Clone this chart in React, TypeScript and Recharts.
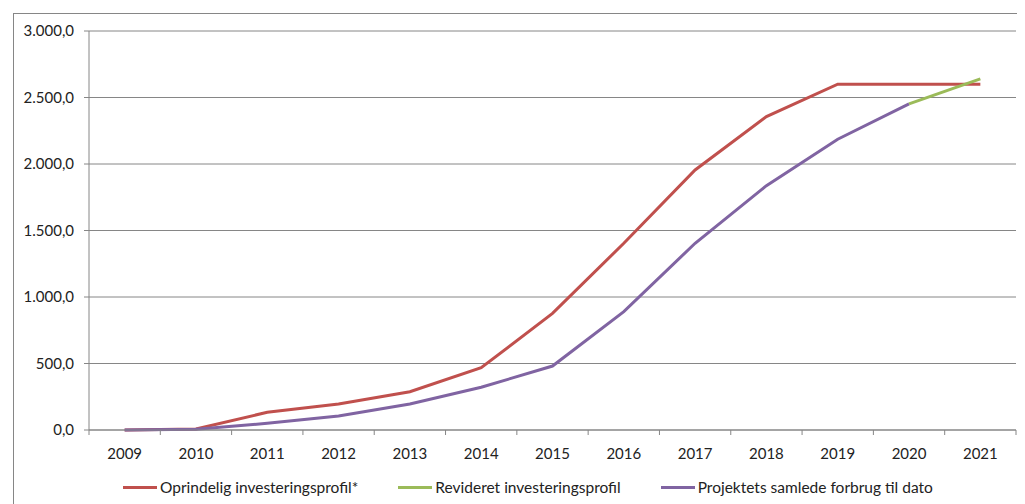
import { LineChart, Line, XAxis, YAxis, CartesianGrid, Legend } from 'recharts';

const years = ['2009', '2010', '2011', '2012', '2013', '2014', '2015', '2016', '2017', '2018', '2019', '2020', '2021'];
const oprindelig = [0, 8, 133, 195, 288, 468, 877, 1404, 1955, 2356, 2600, 2600, 2600];
const revideret = [null, null, null, null, null, null, null, null, null, null, null, 2452, 2640];
const forbrug = [0, 5, 50, 105, 195, 321, 481, 890, 1404, 1837, 2186, 2452, null];
const yTicks = [0, 500, 1000, 1500, 2000, 2500, 3000];

const series = [
  { key: 'oprindelig', name: 'Oprindelig investeringsprofil*', color: '#C0504D' },
  { key: 'revideret', name: 'Revideret investeringsprofil', color: '#9BBB59' },
  { key: 'forbrug', name: 'Projektets samlede forbrug til dato', color: '#8064A2' },
];

const data = years.map((year, i) => ({
  year,
  oprindelig: oprindelig[i],
  revideret: revideret[i],
  forbrug: forbrug[i],
}));

const gridColor = '#868686';
const textColor = '#222';
const font = 'Lato, "Open Sans", sans-serif';

const formatDk = (v: number) => {
  const [int, dec] = v.toFixed(1).split('.');
  return int.replace(/\B(?=(\d{3})+(?!\d))/g, '.') + ',' + dec;
};

// Excel-style: tick marks sit on the band edges, labels in the band centre
const YearTick = (props: any) => {
  const { x, y, payload, index, visibleTicksCount } = props;
  const half = payload.offset ?? 0;
  const top = y - 18;
  return (
    <g>
      <line x1={x - half} x2={x - half} y1={top} y2={top + 5} stroke={gridColor} />
      {index === visibleTicksCount - 1 && (
        <line x1={x + half} x2={x + half} y1={top} y2={top + 5} stroke={gridColor} />
      )}
      <text x={x} y={y} dy="0.71em" textAnchor="middle" fill={textColor} fontSize={15} fontFamily={font}>
        {payload.value}
      </text>
    </g>
  );
};

const LegendContent = () => (
  <div style={{ display: 'flex', alignItems: 'center', paddingLeft: 115, height: 24, fontFamily: font, fontSize: 15.5, color: textColor }}>
    {series.map((s) => (
      <div key={s.key} style={{ display: 'flex', alignItems: 'center', marginRight: 40 }}>
        <span style={{ display: 'inline-block', width: 34, height: 3, background: s.color, marginRight: 3 }} />
        <span>{s.name}</span>
      </div>
    ))}
  </div>
);

export default function App() {
  return (
    <div style={{ position: 'relative', width: 1017, height: 496 }}>
      <div style={{ position: 'absolute', left: 5, top: 5, width: 1012, height: 491, borderLeft: `1px solid ${gridColor}`, borderTop: `1px solid ${gridColor}`, boxSizing: 'border-box' }} />
      <LineChart width={1017} height={496} data={data} margin={{ top: 23, right: 9, bottom: 5, left: 0 }}>
        <CartesianGrid vertical={false} stroke={gridColor} strokeWidth={1} />
        <XAxis
          dataKey="year"
          scale="band"
          axisLine={{ stroke: gridColor }}
          tickLine={false}
          tickSize={5}
          tickMargin={13}
          height={45}
          tick={<YearTick />}
        />
        <YAxis
          domain={[0, 3000]}
          ticks={yTicks}
          width={81}
          axisLine={{ stroke: gridColor }}
          tickLine={{ stroke: gridColor }}
          tickSize={5}
          tickMargin={10}
          tickFormatter={formatDk}
          tick={{ fill: textColor, fontSize: 15, fontFamily: font }}
        />
        <Legend
          verticalAlign="bottom"
          height={24}
          content={<LegendContent />}
          wrapperStyle={{ left: 0, width: 1017 }}
        />
        <Line dataKey="oprindelig" name={series[0].name} stroke={series[0].color} strokeWidth={3} dot={false} isAnimationActive={false} />
        <Line dataKey="forbrug" name={series[2].name} stroke={series[2].color} strokeWidth={3} dot={false} isAnimationActive={false} />
        <Line dataKey="revideret" name={series[1].name} stroke={series[1].color} strokeWidth={3} dot={false} isAnimationActive={false} />
      </LineChart>
    </div>
  );
}
